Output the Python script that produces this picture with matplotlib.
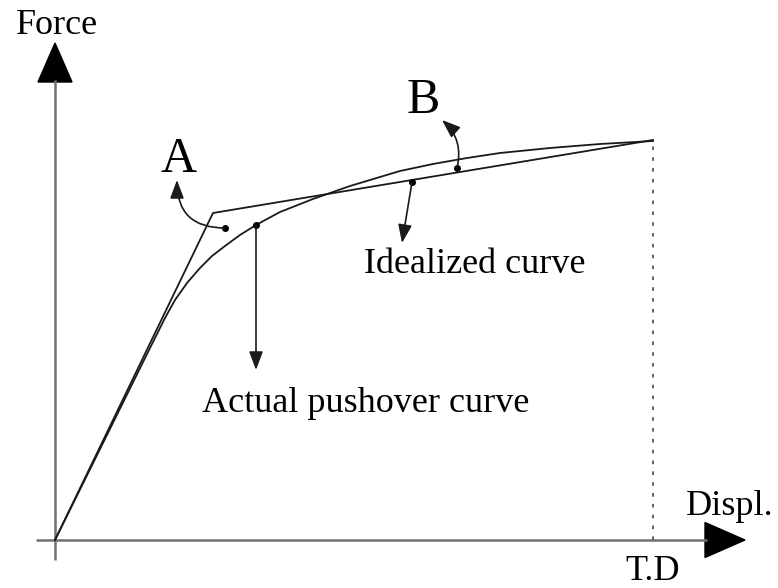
import numpy as np
import matplotlib
matplotlib.use('Agg')
from matplotlib import pyplot as plt

# schematic pushover curves (displacement, force) in drawing units
actual_d = [0, 95, 110, 120, 132, 145, 157, 170, 185, 201, 225, 258, 295,
            345, 378, 412, 445, 495, 545, 598]
actual_f = [0, 192, 222, 240, 257, 272, 284, 294, 305, 315, 328, 341, 354,
            369, 376, 382, 387, 392, 396, 399]
ideal_d = [0, 158, 598]
ideal_f = [0, 327, 400]
target_d = 598

# labels
y_label = 'Force'
x_label = 'Displ.'
td_label = 'T.D'
actual_label = 'Actual pushover curve'
ideal_label = 'Idealized curve'

plt.rcParams['font.family'] = ['Liberation Serif', 'DejaVu Serif']

fig = plt.figure(figsize=(7.78, 5.88), dpi=100)
ax = fig.add_axes([0, 0, 1, 1])
ax.set_xlim(-55, 723)
ax.set_ylim(-48, 540)
ax.axis('off')

axis_col = '#707070'
line_col = '#1a1a1a'

# axes with filled arrow heads
ax.plot([0, 0], [-20, 460], color=axis_col, lw=1.8, solid_capstyle='butt')
ax.plot([-19, 652], [0, 0], color=axis_col, lw=1.8, solid_capstyle='butt')
ax.fill([-17, 17, 0], [458, 458, 497], color='black')
ax.fill([650, 650, 690], [17.5, -17.5, 0], color='black')

# curves
ax.plot(ideal_d, ideal_f, color=line_col, lw=1.3)
ax.plot(actual_d, actual_f, color=line_col, lw=1.3)
ax.plot([target_d, target_d], [0, ideal_f[-1]], color='#555555', lw=1.3,
        linestyle=(0, (2, 4)))

# annotations
head = dict(arrowstyle='-|>,head_length=0.8,head_width=0.3', mutation_scale=14,
            color=line_col, lw=1.2, shrinkA=0, shrinkB=0)

ax.annotate('', xy=(201, 170), xytext=(201, 315), arrowprops=head)
ax.annotate('', xy=(347, 297), xytext=(357, 358), arrowprops=head)
ax.annotate('', xy=(122, 360), xytext=(170, 312),
            arrowprops=dict(head, connectionstyle='angle3,angleA=180,angleB=90'))
ax.annotate('', xy=(387, 420), xytext=(402, 372),
            arrowprops=dict(head, connectionstyle='arc3,rad=0.3'))

ax.plot([201, 357, 170, 402], [315, 358, 312, 372], 'o', color='black', ms=4)

# text
ax.text(2, 506, y_label, fontsize=26, ha='center', va='baseline')
ax.text(675, 25, x_label, fontsize=26, ha='center', va='baseline')
ax.text(target_d, -40, td_label, fontsize=26, ha='center', va='baseline')
ax.text(124, 368, 'A', fontsize=36, ha='center', va='baseline')
ax.text(368, 427, 'B', fontsize=36, ha='center', va='baseline')
ax.text(420, 267, ideal_label, fontsize=26, ha='center', va='baseline')
ax.text(311, 128, actual_label, fontsize=26, ha='center', va='baseline')

fig.savefig('out.png', dpi=100)
